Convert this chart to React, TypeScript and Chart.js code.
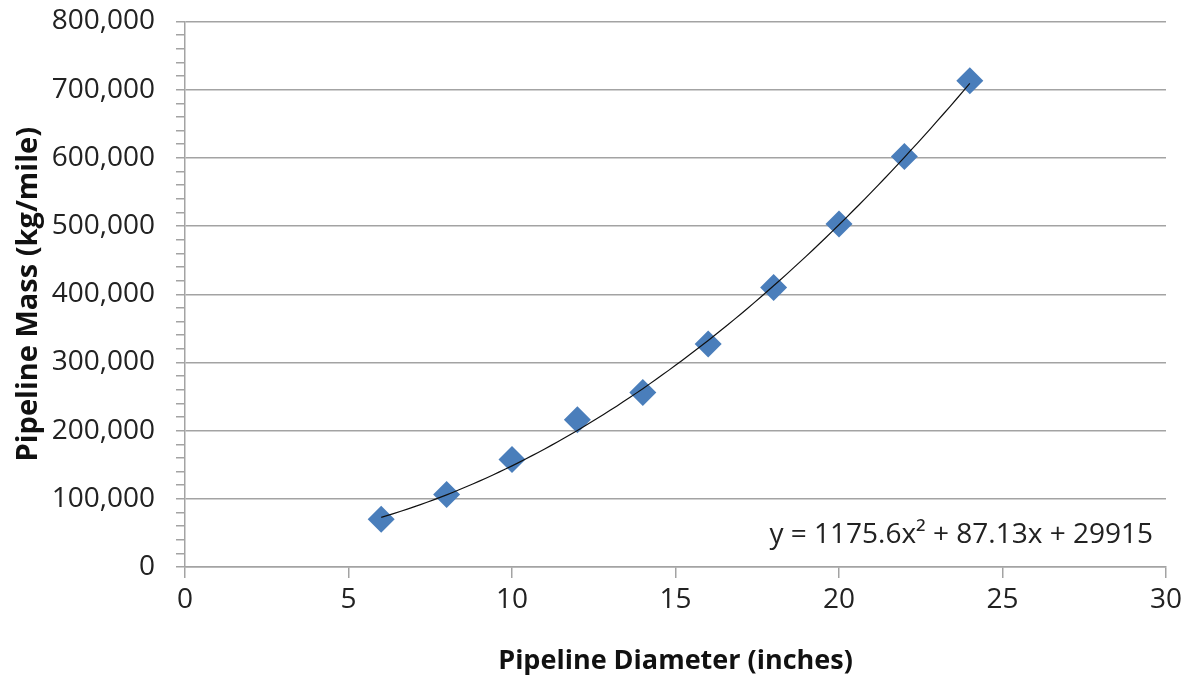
import React, { useEffect, useRef } from "react";
import { Chart, registerables } from "chart.js";

Chart.register(...registerables);

const diameters = [6, 8, 10, 12, 14, 16, 18, 20, 22, 24];
const masses = [70000, 106500, 157500, 216000, 256000, 327000, 410000, 503000, 602000, 713000];
// Trendline equation shown on the chart: y = a x^2 + b x + c
const trendCoefficients = [1175.6, 87.13, 29915];
const trendRange = [6, 24];
const equationLabel = "y = 1175.6x² + 87.13x + 29915";
const xTitle = "Pipeline Diameter (inches)";
const yTitle = "Pipeline Mass (kg/mile)";

const FONT = "'Open Sans', 'Liberation Sans', sans-serif";
const GRID = "#a3a3a3";

export default function App() {
  const ref = useRef<HTMLCanvasElement | null>(null);
  useEffect(() => {
    if (!ref.current) return;
    const [a, b, c] = trendCoefficients;
    const trend: { x: number; y: number }[] = [];
    const steps = 90;
    for (let i = 0; i <= steps; i++) {
      const x = trendRange[0] + ((trendRange[1] - trendRange[0]) * i) / steps;
      trend.push({ x, y: a * x * x + b * x + c });
    }
    const eqPlugin = {
      id: "eq",
      afterDraw(chart: any) {
        const { ctx, chartArea } = chart;
        ctx.save();
        ctx.font = `28px ${FONT}`;
        ctx.fillStyle = "#222";
        ctx.textAlign = "right";
        ctx.textBaseline = "middle";
        ctx.fillText(equationLabel, chartArea.right - 13, chartArea.bottom - 32);
        ctx.restore();
      },
    };
    const chart = new Chart(ref.current, {
      type: "scatter",
      data: {
        datasets: [
          {
            type: "line",
            label: "Trend",
            data: trend,
            borderColor: "#111",
            borderWidth: 1.2,
            pointRadius: 0,
            fill: false,
            tension: 0,
            order: 0,
          } as any,
          {
            label: "Mass",
            data: diameters.map((d, i) => ({ x: d, y: masses[i] })),
            pointStyle: "rectRot",
            pointRadius: 13.5,
            backgroundColor: "#4a7ebb",
            borderColor: "#4a7ebb",
            borderWidth: 0,
            order: 1,
          },
        ],
      },
      options: {
        animation: false,
        responsive: true,
        maintainAspectRatio: false,
        layout: { padding: { top: 13, right: 24, left: 0, bottom: 0 } },
        plugins: { legend: { display: false }, tooltip: { enabled: false } },
        scales: {
          x: {
            type: "linear",
            min: 0,
            max: 30,
            afterFit: (s: any) => {
              s.height = 112;
              s.paddingLeft = 0;
              s.paddingRight = 0;
            },
            ticks: {
              stepSize: 5,
              color: "#222",
              font: { family: FONT, size: 28 },
              padding: 5,
            },
            grid: {
              drawOnChartArea: false,
              drawTicks: true,
              tickLength: 11,
              tickColor: GRID,
              lineWidth: 1.5,
            },
            border: { color: GRID, width: 1.5 },
            title: {
              display: true,
              text: xTitle,
              color: "#111",
              font: { family: FONT, size: 27, weight: "bold" },
              padding: { top: 0, bottom: 1 },
            },
          },
          y: {
            min: 0,
            max: 800000,
            afterFit: (s: any) => {
              s.width = 177;
              s.paddingTop = 0;
              s.paddingBottom = 0;
            },
            ticks: {
              stepSize: 20000,
              autoSkip: false,
              color: "#222",
              font: { family: FONT, size: 28 },
              padding: 21,
              callback: (v: any) => (Number(v) % 100000 === 0 ? Number(v).toLocaleString("en-US") : ""),
            },
            grid: {
              color: (ctx: any) => (ctx.tick && ctx.tick.value % 100000 === 0 ? GRID : "rgba(0,0,0,0)"),
              tickColor: GRID,
              tickLength: 9,
              lineWidth: 1.5,
            },
            border: { color: GRID, width: 1.5 },
            title: {
              display: true,
              text: yTitle,
              color: "#111",
              font: { family: FONT, size: 29, weight: "bold" },
              padding: { top: 3, bottom: 0 },
            },
          },
        },
      },
      plugins: [eqPlugin],
    });
    return () => chart.destroy();
  }, []);
  return (
    <div style={{ width: 1182, height: 671, position: "relative" }}>
      <canvas ref={ref} />
    </div>
  );
}
